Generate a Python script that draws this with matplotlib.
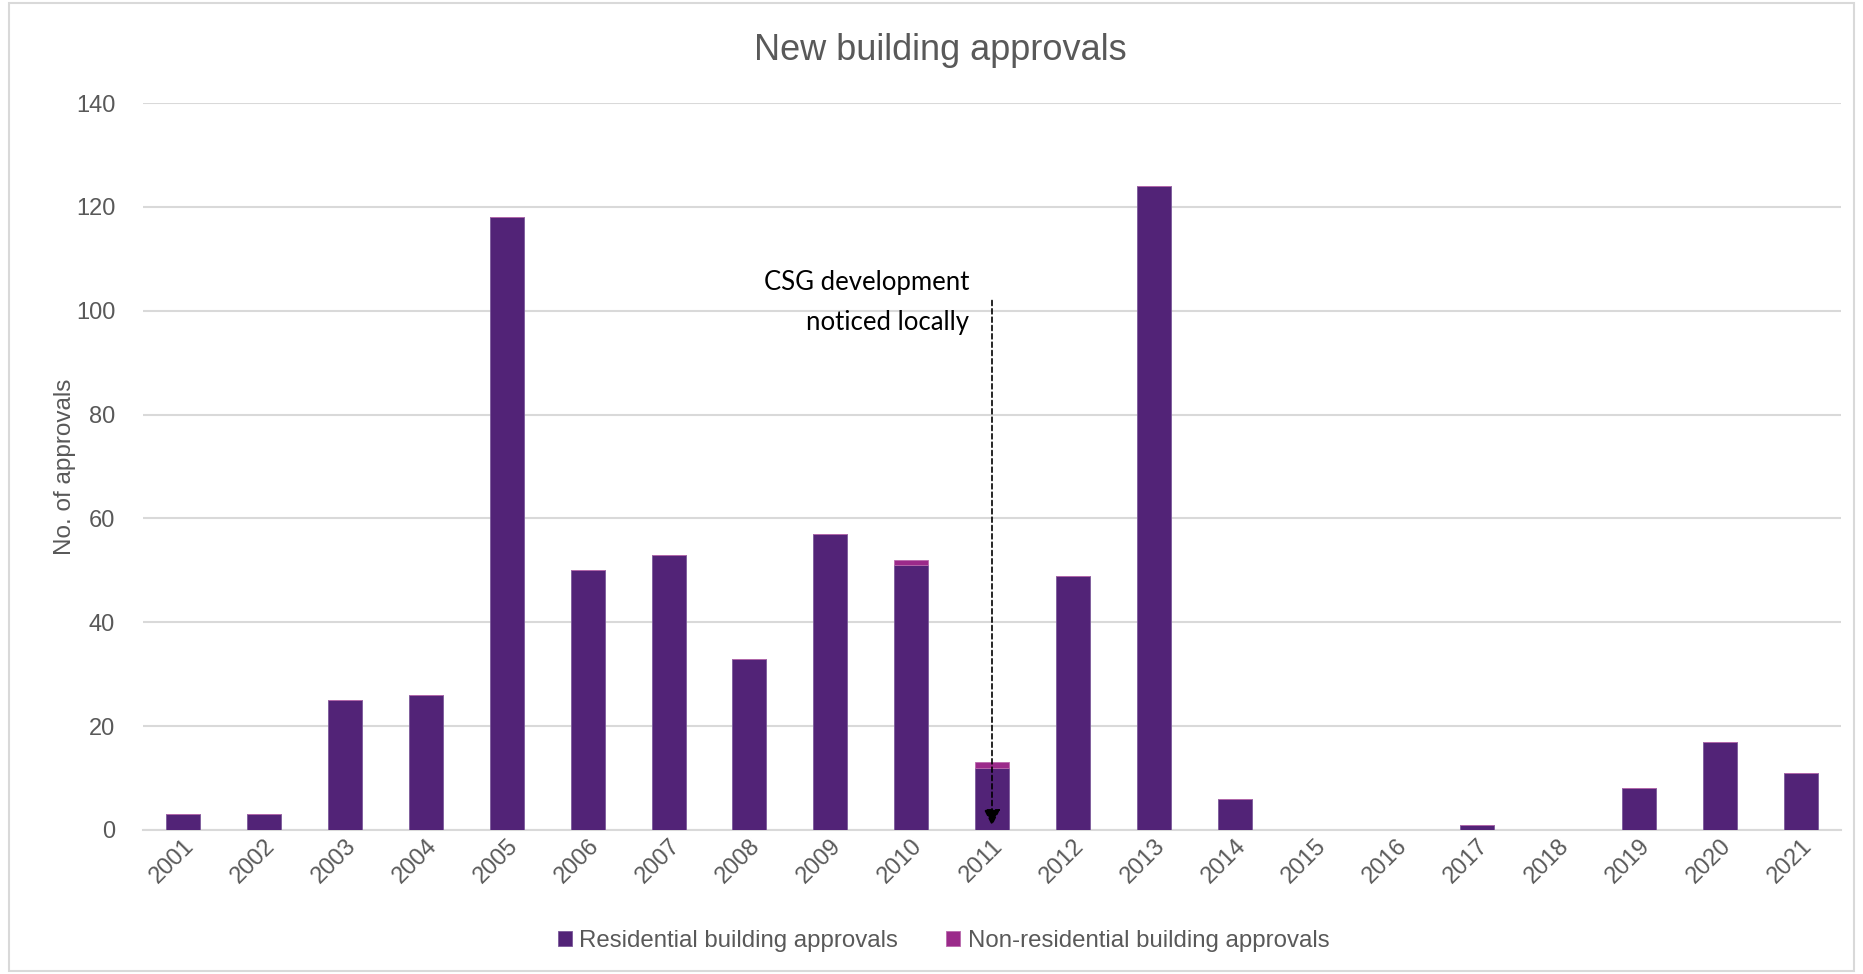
import matplotlib.pyplot as plt
import numpy as np
from matplotlib.patches import Rectangle

years = [str(y) for y in range(2001, 2022)]
residential = [3, 3, 25, 26, 118, 50, 53, 33, 57, 51, 12, 49, 124, 6, 0, 0, 1, 0, 8, 17, 11]
non_residential = [0, 0, 0, 0, 0, 0, 0, 0, 0, 1, 1, 0, 0, 0, 0, 0, 0, 0, 0, 0, 0]

RES_COLOR = "#522377"
NONRES_COLOR = "#9b2a8a"
TEXT_GREY = "#595959"
GRID_GREY = "#d9d9d9"

plt.rcParams["font.family"] = ["Liberation Sans", "DejaVu Sans"]

fig = plt.figure(figsize=(18.63, 9.74), dpi=100)
ax = fig.add_axes([143 / 1863, 1 - 830 / 974, (1841 - 143) / 1863, (830 - 103) / 974])

# light border round the whole chart
fig.patches.append(Rectangle((0.005, 0.003), 0.99, 0.994, transform=fig.transFigure,
                             fill=False, edgecolor=GRID_GREY, linewidth=1.5))

x = np.arange(len(years))
ax.bar(x, residential, width=0.42, color=RES_COLOR, edgecolor="#7b5a9a", linewidth=0.6,
       label="Residential building approvals", zorder=3)
ax.bar(x, non_residential, width=0.42, bottom=residential, color=NONRES_COLOR,
       edgecolor="#b96aad", linewidth=0.6, label="Non-residential building approvals", zorder=3)

ax.set_ylim(0, 140)
ax.set_xlim(-0.5, len(years) - 0.5)
ax.set_yticks(range(0, 141, 20))
ax.yaxis.grid(True, color=GRID_GREY, linewidth=1.5)
ax.set_axisbelow(True)
for s in ["top", "right", "left"]:
    ax.spines[s].set_visible(False)
ax.spines["bottom"].set_color(GRID_GREY)
ax.spines["bottom"].set_linewidth(1.5)
ax.tick_params(axis="both", length=0, colors=TEXT_GREY, labelsize=17)
ax.tick_params(axis="y", pad=20)
ax.set_xticks(x)
ax.set_xticklabels(years, rotation=45, ha="right", rotation_mode="anchor")

ax.set_ylabel("No. of approvals", color=TEXT_GREY, fontsize=17.5, labelpad=0)
fig.text(940 / 1863, 1 - 50 / 974, "New building approvals",
         ha="center", va="center", color=TEXT_GREY, fontsize=26)

# CSG annotation
ax.annotate("", xy=(10, 0.3), xytext=(10, 102.5),
            arrowprops=dict(arrowstyle="-|>", linestyle=(0, (3, 2)), color="black",
                            linewidth=1.2, mutation_scale=25), zorder=5)
ax.text(9.72, 101.5, "CSG development\nnoticed locally", ha="right", va="center",
        fontsize=18.5, family=["Lato", "DejaVu Sans"], linespacing=1.75, zorder=5)

ax.legend(loc="center", bbox_to_anchor=(0.5064, 1 - 941 / 974),
          bbox_transform=fig.transFigure,
          ncol=2, frameon=False, fontsize=17.3, labelcolor=TEXT_GREY,
          handlelength=0.6, handleheight=0.6, handletextpad=0.3, columnspacing=2.0)

fig.savefig("out.png", dpi=100)
